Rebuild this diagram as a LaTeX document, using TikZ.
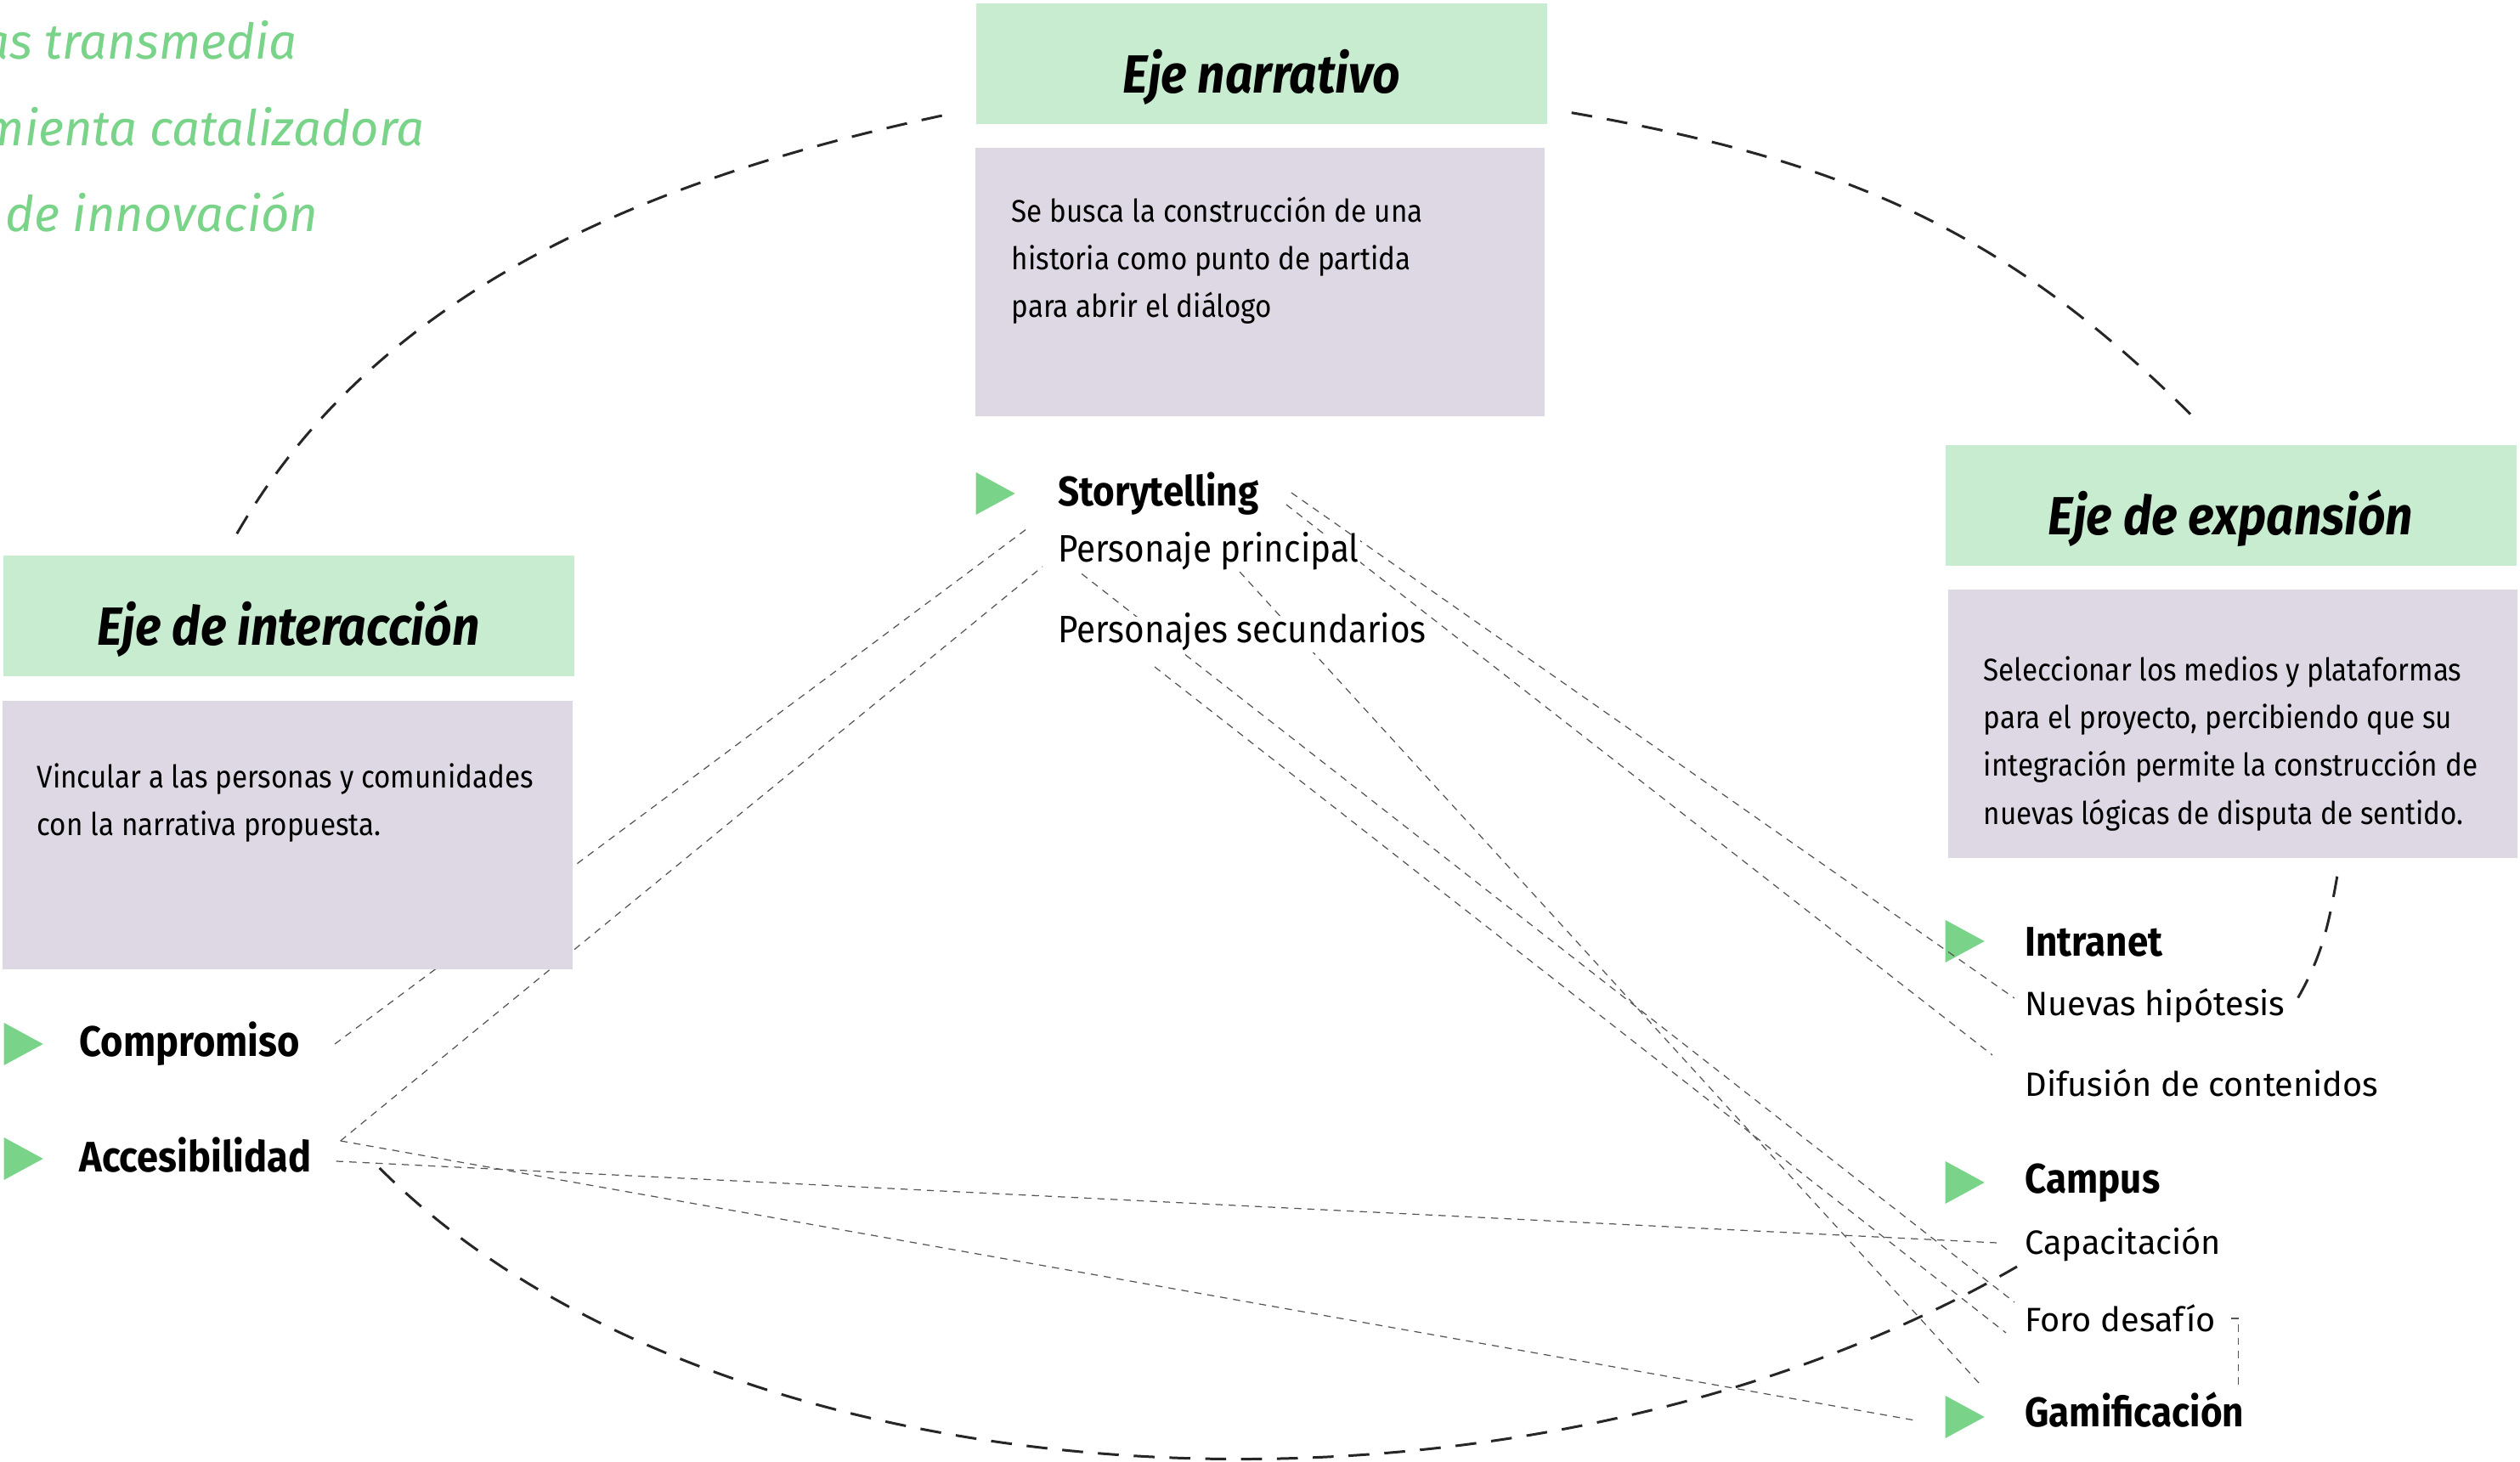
\documentclass[tikz,border=0pt]{standalone}
\usepackage{fontspec}
\setmainfont{Fira Sans}
\newfontfamily\narrowfont[FakeStretch=0.9]{Fira Sans}
\usetikzlibrary{shapes.geometric}
\definecolor{axisgreen}{HTML}{C8ECCF}
\definecolor{axislilac}{HTML}{DED8E4}
\definecolor{markgreen}{HTML}{79D389}
\definecolor{linkgray}{HTML}{555555}
\tikzstyle{axis title} = [fill=axisgreen, minimum width=6.72cm, minimum height=1.42cm, inner sep=0pt, font=\narrowfont\fontsize{18}{20}\selectfont\bfseries\itshape, text height=19.9pt, text depth=0pt]
\tikzstyle{axis box} = [fill=axislilac, minimum width=6.70cm, minimum height=3.16cm, inner sep=0pt]
\tikzstyle{axis text} = [anchor=north west, inner sep=0pt, align=left, font=\narrowfont\fontsize{10.5}{16}\selectfont]
\tikzstyle{marker} = [isosceles triangle, isosceles triangle stretches, fill=markgreen, minimum height=0.46cm, minimum width=0.50cm, inner sep=0pt, anchor=west]
\tikzstyle{head} = [anchor=base west, inner sep=0.5pt, fill=white, text height=9.9pt, text depth=3pt, font=\narrowfont\fontsize{13.9}{16}\selectfont\bfseries]
\tikzstyle{item} = [anchor=base west, inner sep=0.5pt, fill=white, text height=8.4pt, text depth=2.6pt, font=\fontsize{11.3}{14}\selectfont]
\tikzstyle{link} = [draw=linkgray, line width=0.35pt, dash pattern=on 2.4pt off 2pt]
\tikzstyle{orbit} = [draw=black!85, line width=0.85pt, dash pattern=on 7pt off 5pt]
\tikzstyle{motto} = [anchor=base east, inner sep=0pt, text=markgreen, font=\fontsize{16.5}{20}\selectfont\itshape]
\pgfdeclarelayer{background}
\pgfdeclarelayer{foreground}
\pgfsetlayers{background,main,foreground}
\begin{document}
\begin{tikzpicture}
    \useasboundingbox (0,0) rectangle (29.66,17.21);
    \begin{pgfonlayer}{background}
       \node [marker] (st-tri) at (11.48,11.40) {};
       \node [marker] (comp-tri) at (0.04,4.92) {};
       \node [marker] (acc-tri) at (0.04,3.57) {};
       \node [marker] (intr-tri) at (22.89,6.13) {};
       \node [marker] (camp-tri) at (22.89,3.29) {};
       \node [marker] (gam-tri) at (22.89,0.53) {};
    \end{pgfonlayer}
    \begin{pgfonlayer}{foreground}
       % titulo
       \node [motto] (motto-a) at (3.50,16.51) {as transmedia};
       \node [motto] (motto-b) at (5.00,15.49) {mienta catalizadora};
       \node [motto] (motto-c) at (3.75,14.48) {de innovación};
       % ejes
       \node [axis title] (narr-title) at (14.85,16.46) {Eje narrativo};
       \node [axis box] (narr-box) at (14.83,13.89) {};
       \node [axis text] (narr-text) at (11.90,14.90) {Se busca la construcción de una\\historia como punto de partida\\para abrir el diálogo};
       \node [axis title] (exp-title) at (26.255,11.26) {Eje de expansión};
       \node [axis box] (exp-box) at (26.275,8.69) {};
       \node [axis text] (exp-text) at (23.34,9.49) {Seleccionar los medios y plataformas\\para el proyecto, percibiendo que su\\integración permite la construcción de\\nuevas lógicas de disputa de sentido.};
       \node [axis title] (int-title) at (3.395,9.96) {Eje de interacción};
       \node [axis box] (int-box) at (3.385,7.38) {};
       \node [axis text] (int-text) at (0.43,8.23) {Vincular a las personas y comunidades\\con la narrativa propuesta.};
       % elementos
       \node [head] (st) at (12.43,11.25) {Storytelling};
       \node [item, font=\narrowfont\fontsize{12.8}{14}\selectfont] (pp) at (12.43,10.59) {Personaje principal};
       \node [item, font=\narrowfont\fontsize{12.8}{14}\selectfont] (ps) at (12.43,9.64) {Personajes secundarios};
       \node [head, font=\narrowfont\fontsize{14.3}{16}\selectfont\bfseries] (comp) at (0.91,4.77) {Compromiso};
       \node [head, font=\narrowfont\fontsize{14.3}{16}\selectfont\bfseries] (acc) at (0.91,3.41) {Accesibilidad};
       \node [head] (intr) at (23.81,5.95) {Intranet};
       \node [item] (nh) at (23.81,5.25) {Nuevas hipótesis};
       \node [item] (dc) at (23.81,4.30) {Difusión de contenidos};
       \node [head] (camp) at (23.81,3.16) {Campus};
       \node [item] (cap) at (23.81,2.44) {Capacitación};
       \node [item] (fd) at (23.81,1.53) {Foro desafío};
       \node [head] (gam) at (23.81,0.41) {Gamificación};
    \end{pgfonlayer}

    % enlaces
    \path [link] ([xshift=0.39cm,yshift=0.15cm]comp.base east) -- ([xshift=-0.31cm,yshift=0.42cm]pp.base west);
    \path [link] ([xshift=0.32cm,yshift=0.37cm]acc.base east) -- ([xshift=-0.16cm,yshift=-0.05cm]pp.base west);
    \path [link] ([xshift=0.32cm,yshift=0.37cm]acc.base east) -- ([xshift=-0.35cm,yshift=-0.04cm]gam-tri.west);
    \path [link] ([xshift=0.27cm,yshift=0.13cm]acc.base east) -- ([xshift=-0.31cm,yshift=0.14cm]cap.base west);
    \path [link] ([xshift=0.36cm,yshift=0.16cm]st.base east) -- ([xshift=-0.10cm,yshift=0.21cm]nh.base west);
    \path [link] ([xshift=0.30cm,yshift=0.02cm]st.base east) -- ([xshift=-0.36cm,yshift=0.49cm]dc.base west);
    \path [link] ([xshift=0.18cm,yshift=-0.04cm]pp.base west) -- ([xshift=-0.10cm,yshift=0.35cm]fd.base west);
    \path [link] ([xshift=1.16cm,yshift=-0.28cm]ps.base west) -- ([xshift=-0.20cm,yshift=-0.01cm]fd.base west);
    \path [link] ([xshift=2.16cm,yshift=-0.11cm]pp.base west) -- ([xshift=-0.51cm,yshift=0.51cm]gam.base west);
    \path [link] ([xshift=0.16cm,yshift=0.16cm]fd.base east) -| ([xshift=-0.09cm,yshift=0.45cm]gam.base east);

    % ciclo
    \path [orbit] ([xshift=2.76cm,yshift=0.25cm]int-title.north west) to [out=60, in=192, looseness=0.9] ([xshift=-0.33cm,yshift=0.12cm]narr-title.south west);
    \path [orbit] ([xshift=0.28cm,yshift=0.14cm]narr-title.south east) to [out=-10, in=135] ([xshift=2.93cm,yshift=0.32cm]exp-title.north west);
    \path [orbit] ([xshift=4.59cm,yshift=-0.21cm]exp-box.south west) to [out=-100, in=60] ([xshift=0.11cm,yshift=0.18cm]nh.base east);
    \path [orbit] ([xshift=0.78cm,yshift=0.05cm]acc.base east) .. controls +(-45:5.8) and +(210:6.8) .. ([xshift=-0.07cm,yshift=-0.14cm]cap.base west);
\end{tikzpicture}
\end{document}
